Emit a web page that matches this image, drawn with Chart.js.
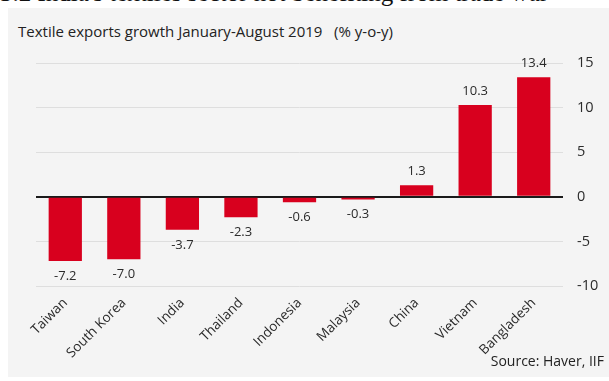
<!DOCTYPE html>
<html>
<head>
<meta charset="utf-8">
<script src="https://cdn.jsdelivr.net/npm/chart.js@4.4.1/dist/chart.umd.min.js"></script>
<style>
    html, body { margin: 0; padding: 0; background: #fff; }
    body { width: 609px; height: 381px; position: relative; overflow: hidden; }
    .headline {
        position: absolute; left: 0; top: -21px; white-space: nowrap;
        font-family: "Liberation Serif", serif; font-size: 25px; color: #111;
    }
    .panel { position: absolute; left: 8px; top: 8px; width: 601px; height: 369px; background: #f4f4f4; }
    .subtitle {
        position: absolute; left: 18px; top: 21px; white-space: nowrap;
        font-family: "Open Sans", sans-serif; font-size: 15px; color: #222;
    }
    .source {
        position: absolute; right: 5px; top: 351px; white-space: nowrap;
        font-family: "Open Sans", sans-serif; font-size: 14px; color: #222;
    }
    .wrap { position: absolute; left: 0; top: 0; width: 609px; height: 381px; }
</style>
</head>
<body>
<div class="headline">3.2 India's textiles sector not benefiting from trade war</div>
<div class="panel"></div>
<div class="subtitle">Textile exports growth January-August 2019&nbsp;&nbsp; (% y-o-y)</div>
<div class="wrap"><canvas id="exportsChart"></canvas></div>
<div class="source">Source: Haver, IIF</div>
<script>
(function(){
    const countries = ["Taiwan", "South Korea", "India", "Thailand", "Indonesia", "Malaysia", "China", "Vietnam", "Bangladesh"];
    const growth = [-7.2, -7.0, -3.7, -2.3, -0.6, -0.3, 1.3, 10.3, 13.4];
    const yTicks = [-10, -5, 0, 5, 10, 15];

    const red = "#d8001e";
    const textColor = "#2b2b2b";
    const fontFamily = "'Open Sans', sans-serif";

    // value printed above positive bars, below negative ones
    const barValues = {
        id: "barValues",
        afterDatasetsDraw(chart) {
            const ctx = chart.ctx;
            const meta = chart.getDatasetMeta(0);
            ctx.save();
            ctx.font = "13px " + fontFamily;
            ctx.fillStyle = textColor;
            ctx.textAlign = "center";
            ctx.textBaseline = "middle";
            meta.data.forEach(function (bar, i) {
                const v = growth[i];
                const y = v >= 0 ? bar.y - 14 : bar.y + 15;
                ctx.fillText(v.toFixed(1), bar.x, y);
            });
            ctx.restore();
        }
    };

    const ctx = document.getElementById("exportsChart");
    new Chart(ctx, {
        type: "bar",
        data: {
            labels: countries,
            datasets: [
                {
                    data: growth,
                    backgroundColor: red,
                    borderWidth: 0,
                    categoryPercentage: 0.8,
                    barPercentage: 0.71,
                },
            ],
        },
        options: {
            responsive: true,
            maintainAspectRatio: false,
            animation: false,
            layout: {
                padding: { left: 36, top: 63, right: 0, bottom: 0 },
            },
            plugins: {
                legend: { display: false },
                tooltip: { enabled: false },
            },
            scales: {
                x: {
                    grid: { display: false },
                    border: { display: false },
                    ticks: {
                        color: textColor,
                        font: { family: fontFamily, size: 13.5 },
                        minRotation: 45,
                        maxRotation: 45,
                        padding: 1,
                    },
                    afterFit: function (scale) { scale.height = 95; },
                },
                y: {
                    position: "right",
                    min: yTicks[0],
                    max: yTicks[yTicks.length - 1],
                    afterBuildTicks: function (scale) {
                        scale.ticks = yTicks.map(function (v) { return { value: v }; });
                    },
                    grid: {
                        drawTicks: false,
                        color: function (c) { return c.tick && c.tick.value === 0 ? "#1a1a1a" : "#dedede"; },
                        lineWidth: function (c) { return c.tick && c.tick.value === 0 ? 2 : 1; },
                    },
                    border: { display: false },
                    ticks: {
                        color: textColor,
                        font: { family: fontFamily, size: 14.5 },
                        padding: 14,
                    },
                    afterFit: function (scale) { scale.width = 46; },
                },
            },
        },
        plugins: [barValues],
    });
})()
</script>
</body>
</html>
